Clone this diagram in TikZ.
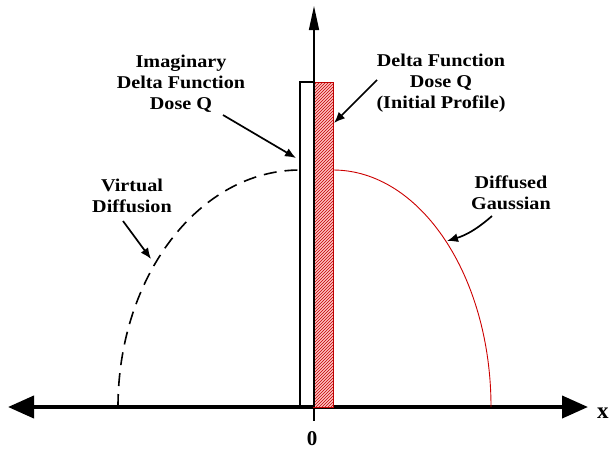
\documentclass[tikz,border=0pt]{standalone}
\usepackage{fontspec}
\setmainfont{Liberation Serif}
\usetikzlibrary{arrows.meta,patterns}
\begin{document}
\begin{tikzpicture}[x=1pt,y=-1pt,
  lbl/.style={font=\bfseries\fontsize{18}{21}\selectfont,align=center,inner sep=0pt,xscale=1.12},
  pointer/.style={line width=1.7pt,-{Latex[length=11pt,width=9pt]}},
  axisline/.style={line width=4pt,{Triangle[length=26pt,width=22pt]}-{Triangle[length=26pt,width=22pt]}},
  vaxis/.style={line width=1.5pt,-{Triangle[length=24pt,width=10pt]}}]
\useasboundingbox (0,0) rectangle (615,453);
% horizontal axis
\coordinate (xl) at (8,407);
\coordinate (xr) at (588,407);
\draw[axisline] (xl) -- (xr);
\node[font=\bfseries\fontsize{23}{24}\selectfont,anchor=base west,inner sep=0pt] (xlab) at (597,418) {x};
% tick and zero
\coordinate (t0) at (314,407);
\coordinate (t1) at (314,421);
\draw[line width=1.5pt] (t0) -- (t1);
\node[font=\bfseries\fontsize{21}{22}\selectfont,inner sep=0pt] (zero) at (312,439) {0};
% imaginary delta (white)
\draw[line width=1.5pt] (314,82) -- (300,82) -- (300,407);
% red hatched delta
\fill[red!25] (313,82) rectangle (333,407);
\fill[pattern=north east lines,pattern color=red!75!black] (313,82) rectangle (333,407);
\draw[red!75!black,line width=1pt] (313,82) rectangle (333,407);
% vertical axis
\coordinate (y0) at (314,407);
\coordinate (y1) at (314,6);
\draw[vaxis] (y0) -- (y1);
% virtual diffusion dashed
\draw[line width=1.6pt,dash pattern=on 13pt off 8pt] (118,407) arc[start angle=180,end angle=90,x radius=182,y radius=-237];
% diffused gaussian red
\draw[red!80!black,line width=0.9pt] (333,170) arc[start angle=90,end angle=0,x radius=158,y radius=-237];
% labels
\node[lbl] (imag) at (181,84) {Imaginary\\Delta Function\\Dose Q};
\node[lbl] (delta) at (441,83) {Delta Function\\Dose Q\\(Initial Profile)};
\node[lbl] (virt) at (132,196) {Virtual\\Diffusion};
\node[lbl] (diff) at (511,193) {Diffused\\Gaussian};
% pointer ends
\coordinate (imagS) at (223,115);
\coordinate (imagE) at (296,158);
\coordinate (deltaS) at (377,80);
\coordinate (deltaE) at (334,123);
\coordinate (virtS) at (123,221);
\coordinate (virtE) at (151,259);
\coordinate (diffS) at (492,216);
\coordinate (diffE) at (447,241);
\draw[pointer] (imagS) -- (imagE);
\draw[pointer] (deltaS) -- (deltaE);
\draw[pointer] (virtS) -- (virtE);
\draw[pointer] (diffS) to[bend left=12] (diffE);
\end{tikzpicture}
\end{document}
